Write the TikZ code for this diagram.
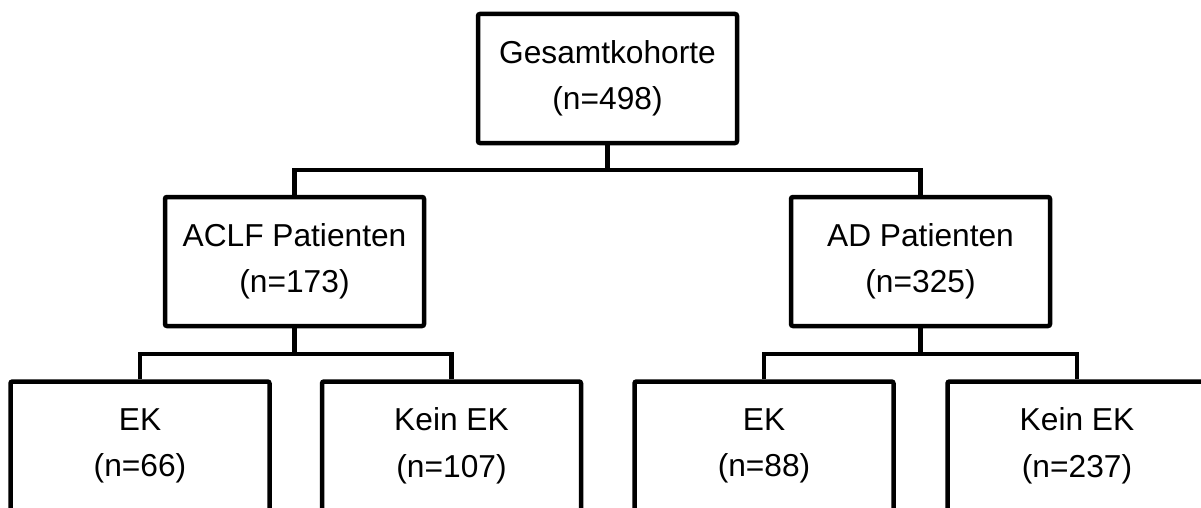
\documentclass[tikz,border=0pt]{standalone}
\usepackage{fontspec}
\setmainfont{Liberation Sans}
\usetikzlibrary{positioning}
\tikzset{
    kbox/.style={draw, line width=4.5pt, rounded corners=2pt, minimum width=259pt,
        minimum height=129pt, align=center, inner sep=0pt,
        font=\fontsize{31.7}{46.5}\selectfont},
    link/.style={line width=4.5pt, line join=miter}
}
\begin{document}
\begin{tikzpicture}[x=1pt,y=1pt]
            \path[use as bounding box, clip] (0,0) rectangle (1201,-508);
            \node[kbox] (total) at (607.5,-78.5) {Gesamtkohorte\\(n=498)};
            \node[kbox] (aclf) at (294.5,-261.5) {ACLF Patienten\\(n=173)};
            \node[kbox] (ad) at (920.5,-261.5) {AD Patienten\\(n=325)};
            \node[kbox] (aclfek) at (140,-446) {EK\\(n=66)};
            \node[kbox] (aclfnoek) at (451.5,-446) {Kein EK\\(n=107)};
            \node[kbox] (adek) at (764,-446) {EK\\(n=88)};
            \node[kbox] (adnoek) at (1077,-446) {Kein EK\\(n=237)};
            \coordinate (topbar) at (0,-170);
            \coordinate (lowbar) at (0,-354);
            \draw[link] (total.south) -- (total.south |- topbar);
            \draw[link] (aclf.north) |- (topbar -| total) -| (ad.north);
            \draw[link] (aclf.south) -- (aclf.south |- lowbar);
            \draw[link] (aclfek.north) |- (lowbar -| aclf) -| (aclfnoek.north);
            \draw[link] (ad.south) -- (ad.south |- lowbar);
            \draw[link] (adek.north) |- (lowbar -| ad) -| (adnoek.north);
\end{tikzpicture}
\end{document}
